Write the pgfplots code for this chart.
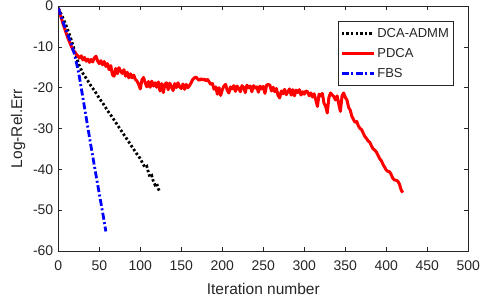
\documentclass[border=0pt]{standalone}
\usepackage{pgfplots}
\pgfplotsset{compat=1.18}
\usepackage{fontspec}
\setmainfont{Liberation Sans}
\definecolor{axgray}{HTML}{262626}
\begin{document}
\begin{tikzpicture}
\useasboundingbox (-58.3bp,-47bp) rectangle (426.7bp,251bp);
\begin{axis}[
  scale only axis,
  width=410bp, height=245bp,
  xmin=0, xmax=500, ymin=-60, ymax=0,
  xtick={0,50,...,500}, ytick={-60,-50,...,0},
  tick align=inside,
  major tick length=4bp,
  axis line style={axgray, line width=0.6bp},
  tick style={axgray, line width=0.6bp},
  every tick label/.append style={font=\fontsize{14bp}{16bp}\selectfont, text=axgray},
  xticklabel style={yshift=-15bp, anchor=center},
  yticklabel style={xshift=-1.5bp},
  /pgf/number format/assume math mode=true,
  xlabel={Iteration number},
  ylabel={Log-Rel.Err},
  label style={font=\fontsize{15.5bp}{17bp}\selectfont, text=axgray},
  xlabel style={at={(axis description cs:0.5,-0.155)}, anchor=center},
  ylabel style={at={(axis description cs:-0.0983,0.5)}, anchor=center},
  legend style={at={(0.963,0.94)}, anchor=north east, draw=axgray, line width=0.6bp,
    font=\fontsize{13bp}{15bp}\selectfont, text=axgray, row sep=5.5bp,
    inner xsep=2bp, inner ysep=5bp},
  legend cell align=left,
  legend image code/.code={\draw[#1] (0bp,0bp) -- (32bp,0bp);},
]
\addplot[black, line width=2.8bp, dash pattern=on 2.4bp off 2.2bp] coordinates {
(0,-0.5) (5,-2.6) (10,-5) (15,-7.8) (20,-11) (25,-14.3) (30,-16.5) (35,-18) (40,-19.6)
(45,-21) (50,-22.6) (55,-24) (60,-25.6) (65,-27) (70,-28.5) (75,-30) (80,-31.5) (85,-33)
(90,-34.5) (95,-36) (100,-37.4) (103,-38.6) (106,-39.6) (108,-39.3) (110,-40.8) (112,-42)
(114,-41.6) (116,-43) (118,-43.8) (120,-43.4) (122,-44.8) (124,-45.5)
};
\addlegendentry{DCA-ADMM}
\addplot[red, line width=3bp, line join=round] coordinates {
(0,-0.5) (3,-2.5) (6,-4.5) (9,-6.3) (12,-8) (15,-9.5) (18,-10.8) (20,-11.3) (22,-11.8)
(24,-12.3) (26,-12.7) (28,-12.2) (30,-13.2) (32,-12.6) (34,-13.5) (36,-13.0) (38,-13.8)
(40,-13.1) (42,-13.7) (44,-12.7) (46,-12.3) (48,-13.5) (50,-14.1) (52,-13.4) (54,-14.4)
(56,-13.6) (58,-14.8) (60,-14.1) (62,-15.6) (64,-14.6) (66,-16.8) (68,-17.2) (70,-15.3)
(72,-16.6) (74,-15.1) (76,-16.0) (78,-16.5) (80,-15.6) (82,-17.2) (84,-16.2) (86,-17.6)
(88,-16.6) (90,-17.6) (92,-16.9) (94,-18.0) (96,-18.4) (98,-19.2) (100,-20.3) (102,-18.1)
(104,-17.5) (106,-18.8) (108,-19.8) (110,-18.5) (112,-19.9) (114,-18.4) (116,-19.6)
(118,-18.8) (120,-19.9) (122,-18.6) (124,-20.8) (126,-19.0) (128,-21.2) (130,-19.2)
(132,-18.8) (134,-20.5) (136,-18.9) (138,-19.8) (140,-20.7) (142,-19.0) (144,-20.0)
(146,-18.8) (148,-19.8) (150,-20.2) (152,-19.1) (154,-20.4) (156,-19.2) (158,-20.0)
(160,-19.5) (162,-18.8) (164,-18.0) (166,-17.6) (168,-17.4) (170,-17.9) (172,-18.2)
(174,-17.8) (176,-18.1) (178,-17.9) (180,-18.3) (182,-18.0) (184,-18.6) (186,-19.2)
(188,-19.0) (190,-20.4) (192,-19.8) (194,-21.6) (196,-20.0) (198,-21.9) (200,-20.5)
(202,-19.6) (204,-19.2) (206,-20.6) (208,-21.3) (210,-19.8) (212,-20.3) (214,-19.5)
(216,-20.9) (218,-19.6) (220,-20.2) (222,-21.0) (224,-19.5) (226,-19.9) (228,-21.2)
(230,-19.4) (232,-20.0) (234,-19.6) (236,-21.0) (238,-19.5) (240,-20.1) (242,-19.8)
(244,-21.1) (246,-19.6) (248,-20.3) (250,-19.7) (252,-21.4) (254,-19.4) (256,-19.2)
(258,-19.4) (260,-20.8) (262,-19.9) (264,-21.0) (266,-20.2) (268,-21.9) (270,-22.5)
(272,-20.8) (274,-21.5) (276,-20.4) (278,-21.7) (280,-21.0) (282,-20.3) (284,-21.8)
(286,-20.5) (288,-22.0) (290,-20.6) (292,-21.2) (294,-20.5) (296,-21.8) (298,-21.0)
(300,-21.6) (302,-20.8) (304,-21.0) (306,-22.0) (308,-21.3) (310,-22.3) (312,-21.5)
(314,-23.0) (316,-24.6) (318,-21.6) (320,-22.0) (322,-21.4) (324,-23.8) (326,-24.5)
(328,-26.2) (330,-22.4) (332,-21.3) (334,-21.8) (336,-22.2) (338,-23.0) (340,-22.0)
(342,-24.0) (344,-25.8) (346,-22.0) (348,-21.3) (350,-22.4) (352,-23.0) (354,-24.8)
(356,-25.5) (358,-27.0) (360,-27.8) (362,-28.5) (364,-28.3) (366,-29.4) (368,-30.0)
(370,-30.3) (372,-31.2) (374,-32.0) (376,-32.5) (378,-33.1) (380,-33.4) (382,-34.3)
(384,-35.0) (386,-35.3) (388,-35.8) (390,-36.6) (392,-37.4) (394,-37.9) (396,-38.8)
(398,-39.5) (400,-40.2) (402,-40.5) (404,-40.6) (406,-41.3) (408,-42.2) (410,-42.6)
(412,-42.7) (414,-42.9) (416,-43.6) (418,-45.0) (420,-45.7)
};
\addlegendentry{PDCA}
\addplot[blue, line width=2.8bp, dash pattern=on 7bp off 2.5bp on 2bp off 2.5bp] coordinates {
(0,-0.5) (5,-3.5) (10,-6.2) (15,-8.8) (20,-12) (25,-16.5) (30,-22.5) (35,-28.5) (40,-34.5)
(45,-40.3) (50,-46) (55,-51.6) (58,-55.2)
};
\addlegendentry{FBS}
\end{axis}
\end{tikzpicture}
\end{document}
